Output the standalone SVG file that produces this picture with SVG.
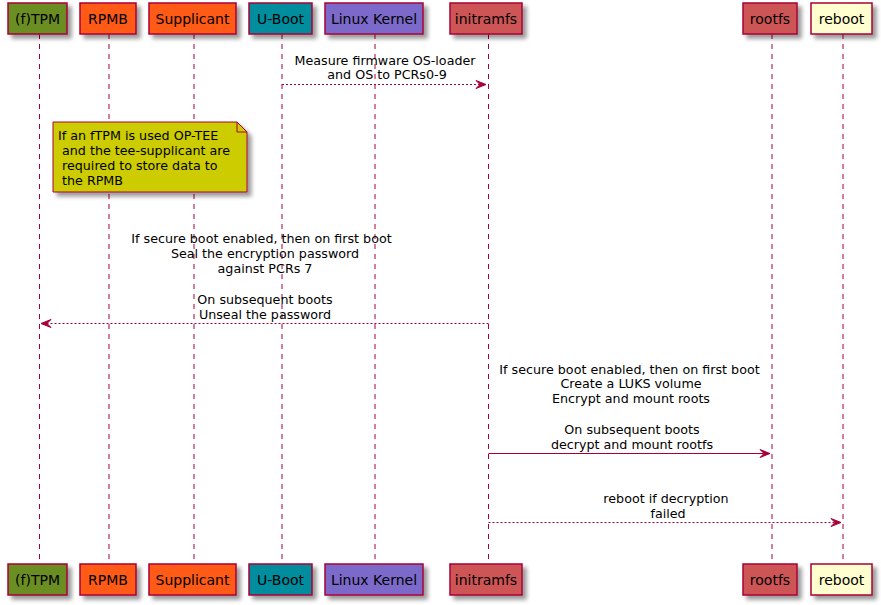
<svg xmlns="http://www.w3.org/2000/svg" width="881" height="605" viewBox="0 0 881 605">
<style>
.bg{fill:#ffffff}
.life{stroke:#A80036;stroke-width:1;stroke-dasharray:5,5;fill:none}
.box{stroke:#A80036;stroke-width:1.5;filter:url(#sh)}
.pt{font-family:"DejaVu Sans",sans-serif;font-size:14px;fill:#000000;text-anchor:middle}
.mt{font-family:"DejaVu Sans",sans-serif;font-size:12.7px;fill:#000000;text-anchor:middle}
.nt{font-family:"DejaVu Sans",sans-serif;font-size:12.7px;fill:#000000}
.msg{stroke:#A80036;stroke-width:1;fill:none}
.dot{stroke-dasharray:2,2}
.ah{fill:#A80036;stroke:#A80036;stroke-width:1}
</style>
<defs>
<filter id="sh" x="-20%" y="-20%" width="150%" height="160%">
<feGaussianBlur in="SourceAlpha" stdDeviation="2"/>
<feOffset dx="4" dy="4" result="b"/>
<feComponentTransfer><feFuncA type="linear" slope="0.4"/></feComponentTransfer>
<feMerge><feMergeNode/><feMergeNode in="SourceGraphic"/></feMerge>
</filter>
</defs>
<rect class="bg" x="0" y="0" width="881" height="605"/>
<g id="lifelines">
<line class="life" x1="39.5" y1="34" x2="39.5" y2="564"/>
<line class="life" x1="109" y1="34" x2="109" y2="564"/>
<line class="life" x1="194" y1="34" x2="194" y2="564"/>
<line class="life" x1="282" y1="34" x2="282" y2="564"/>
<line class="life" x1="375" y1="34" x2="375" y2="564"/>
<line class="life" x1="488.5" y1="34" x2="488.5" y2="564"/>
<line class="life" x1="772" y1="34" x2="772" y2="564"/>
<line class="life" x1="843" y1="34" x2="843" y2="564"/>
</g>
<g id="p-ftpm">
<rect class="box" x="8" y="3" width="59" height="31" fill="#6B8E23"/><text class="pt" x="37.5" y="23.5">(f)TPM</text>
<rect class="box" x="8" y="564" width="59" height="31" fill="#6B8E23"/><text class="pt" x="37.5" y="584.5">(f)TPM</text>
</g>
<g id="p-rpmb">
<rect class="box" x="80" y="3" width="56" height="31" fill="#FF5A14"/><text class="pt" x="108" y="23.5">RPMB</text>
<rect class="box" x="80" y="564" width="56" height="31" fill="#FF5A14"/><text class="pt" x="108" y="584.5">RPMB</text>
</g>
<g id="p-supplicant">
<rect class="box" x="149" y="3" width="87" height="31" fill="#FF5A14"/><text class="pt" x="192.5" y="23.5">Supplicant</text>
<rect class="box" x="149" y="564" width="87" height="31" fill="#FF5A14"/><text class="pt" x="192.5" y="584.5">Supplicant</text>
</g>
<g id="p-uboot">
<rect class="box" x="249" y="3" width="63" height="31" fill="#068E9F"/><text class="pt" x="280.5" y="23.5">U-Boot</text>
<rect class="box" x="249" y="564" width="63" height="31" fill="#068E9F"/><text class="pt" x="280.5" y="584.5">U-Boot</text>
</g>
<g id="p-kernel">
<rect class="box" x="325" y="3" width="98" height="31" fill="#7B6BCB"/><text class="pt" x="374" y="23.5">Linux Kernel</text>
<rect class="box" x="325" y="564" width="98" height="31" fill="#7B6BCB"/><text class="pt" x="374" y="584.5">Linux Kernel</text>
</g>
<g id="p-initramfs">
<rect class="box" x="450" y="3" width="72" height="31" fill="#CD5555"/><text class="pt" x="486" y="23.5">initramfs</text>
<rect class="box" x="450" y="564" width="72" height="31" fill="#CD5555"/><text class="pt" x="486" y="584.5">initramfs</text>
</g>
<g id="p-rootfs">
<rect class="box" x="743" y="3" width="54" height="31" fill="#CD5555"/><text class="pt" x="770" y="23.5">rootfs</text>
<rect class="box" x="743" y="564" width="54" height="31" fill="#CD5555"/><text class="pt" x="770" y="584.5">rootfs</text>
</g>
<g id="p-reboot">
<rect class="box" x="811" y="3" width="61" height="31" fill="#FEFECE"/><text class="pt" x="841.5" y="23.5">reboot</text>
<rect class="box" x="811" y="564" width="61" height="31" fill="#FEFECE"/><text class="pt" x="841.5" y="584.5">reboot</text>
</g>
<g id="note">
<path d="M53,122 L237,122 L247,132 L247,192 L53,192 Z" fill="#CCCC00" stroke="#A80036" stroke-width="1" filter="url(#sh)"/>
<path d="M237,122 L237,132 L247,132" fill="none" stroke="#A80036" stroke-width="1"/>
<text class="nt" x="58" y="140">If an fTPM is used OP-TEE</text>
<text class="nt" x="58" y="155" xml:space="preserve"> and the tee-supplicant are</text>
<text class="nt" x="58" y="170" xml:space="preserve"> required to store data to</text>
<text class="nt" x="58" y="185" xml:space="preserve"> the RPMB</text>
</g>
<g id="connectors">
<line class="msg dot" x1="282" y1="84.5" x2="486" y2="84.5"/>
<polygon class="ah" points="476,80.5 486,84.5 476,88.5 480,84.5"/>
<text class="mt" x="385" y="64.5">Measure firmware OS-loader</text>
<text class="mt" x="387" y="79">and OS to PCRs0-9</text>

<line class="msg dot" x1="488.5" y1="323.5" x2="41" y2="323.5"/>
<polygon class="ah" points="51,319.5 41,323.5 51,327.5 47,323.5"/>
<text class="mt" x="261.5" y="243">If secure boot enabled, then on first boot</text>
<text class="mt" x="265" y="258">Seal the encryption password</text>
<text class="mt" x="265" y="273">against PCRs 7</text>
<text class="mt" x="265" y="303.5">On subsequent boots</text>
<text class="mt" x="265" y="318.5">Unseal the password</text>

<line class="msg" x1="488.5" y1="453.5" x2="770" y2="453.5"/>
<polygon class="ah" points="760,449.5 770,453.5 760,457.5 764,453.5"/>
<text class="mt" x="629.5" y="373.5">If secure boot enabled, then on first boot</text>
<text class="mt" x="631" y="388">Create a LUKS volume</text>
<text class="mt" x="631" y="403">Encrypt and mount roots</text>
<text class="mt" x="632" y="433.5">On subsequent boots</text>
<text class="mt" x="632" y="448.5">decrypt and mount rootfs</text>

<line class="msg dot" x1="488.5" y1="522.5" x2="841" y2="522.5"/>
<polygon class="ah" points="831,518.5 841,522.5 831,526.5 835,522.5"/>
<text class="mt" x="666" y="502.5">reboot if decryption</text>
<text class="mt" x="668" y="517.5">failed</text>
</g>
</svg>
